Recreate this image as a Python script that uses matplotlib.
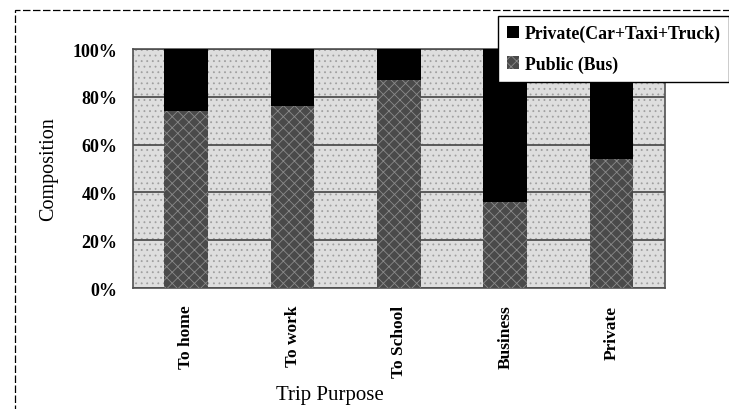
import matplotlib.pyplot as plt
from matplotlib.patches import Rectangle
import numpy as np

purposes = ['To home', 'To work', 'To School', 'Business', 'Private']
public_bus = [74, 76, 87, 36, 54]
private_car = [100 - v for v in public_bus]
yticks = [0, 20, 40, 60, 80, 100]

plt.rcParams['font.family'] = ['Liberation Serif', 'DejaVu Serif']
plt.rcParams['hatch.linewidth'] = 0.6

fig = plt.figure(figsize=(7.29, 4.10), dpi=100)
ax = fig.add_axes([0.1824, 0.295, 0.7296, 0.583])

# stippled plot background
ax.set_facecolor('#dedede')
ax.add_patch(Rectangle((0, 0), 1, 1, transform=ax.transAxes, facecolor='none',
                       edgecolor='#a0a0a0', hatch='...', linewidth=0, zorder=0))

x = np.arange(len(purposes))
ax.bar(x, public_bus, width=0.41, color='#4a4a4a', edgecolor='#8a8a8a',
       hatch='xxx', linewidth=0, label='Public (Bus)', zorder=3)
ax.bar(x, private_car, width=0.41, bottom=public_bus, color='black',
       linewidth=0, label='Private(Car+Taxi+Truck)', zorder=3)

ax.set_xlim(-0.5, len(purposes) - 0.5)
ax.set_ylim(0, 100)
ax.set_yticks(yticks)
ax.set_yticklabels([f'{t}%' for t in yticks], fontsize=13, fontweight='bold')
ax.set_xticks(x)
ax.set_xticklabels(purposes, rotation=90, fontsize=12.5, fontweight='bold')
ax.tick_params(length=0, pad=11)
ax.tick_params(axis='x', pad=12)
ax.yaxis.grid(True, color='#505050', linewidth=1.3, zorder=1)
ax.set_axisbelow(True)
for s in ax.spines.values():
    s.set_color('#505050')
    s.set_linewidth(1.2)

ax.set_ylabel('Composition', fontsize=14.5)
ax.yaxis.set_label_coords(-0.14, 0.5)
ax.set_xlabel('Trip Purpose', fontsize=15)
ax.xaxis.set_label_coords(0.37, -0.405)

h, l = ax.get_legend_handles_labels()
leg = fig.legend(h[::-1], l[::-1], loc='upper left', bbox_to_anchor=(0.683, 0.959),
                 prop={'size': 12.8, 'weight': 'bold'}, frameon=True, fancybox=False,
                 handlelength=0.7, handleheight=0.7, handletextpad=0.3, borderpad=0.5,
                 labelspacing=0.75, borderaxespad=0)
leg.get_frame().set_edgecolor('black')
leg.get_frame().set_linewidth(1.0)
leg.get_frame().set_alpha(1)
leg.set_zorder(10)

# dashed outer border of the chart area
fig.add_artist(Rectangle((0.02, -0.05), 1.2, 1.023, transform=fig.transFigure,
                         facecolor='none', edgecolor='black', linestyle=(0, (6, 2)),
                         linewidth=0.9))

fig.savefig('out.png', dpi=100)
